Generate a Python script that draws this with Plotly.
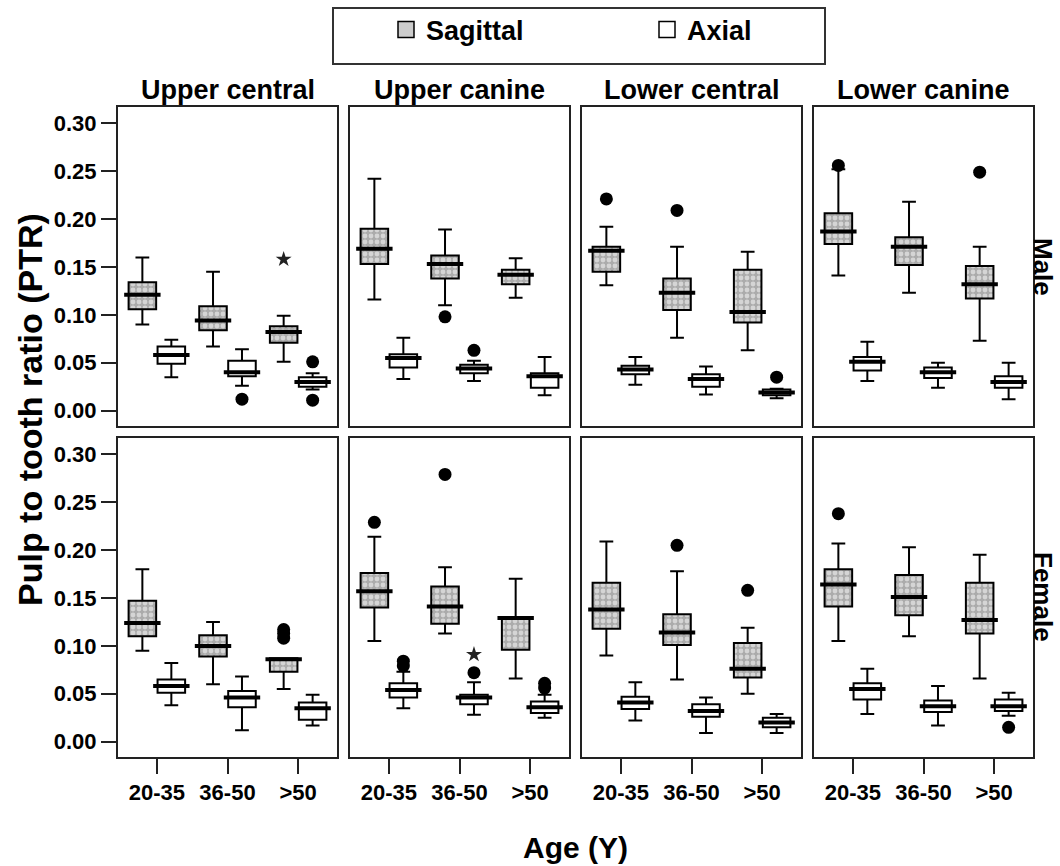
import plotly.graph_objects as go
from plotly.subplots import make_subplots

teeth = ["Upper central", "Upper canine", "Lower central", "Lower canine"]
sexes = ["Male", "Female"]
ages = ["20-35", "36-50", ">50"]
planes = ["Sagittal", "Axial"]

# panel order: Male (UC, UCan, LC, LCan), Female (UC, UCan, LC, LCan); each row = 3 age groups
sag_low = [[0.090, 0.067, 0.051], [0.116, 0.110, 0.118], [0.131, 0.076, 0.063], [0.141, 0.123, 0.073],
           [0.095, 0.060, 0.055], [0.105, 0.113, 0.066], [0.090, 0.065, 0.050], [0.105, 0.110, 0.066]]
sag_q1 = [[0.106, 0.084, 0.071], [0.153, 0.138, 0.132], [0.145, 0.105, 0.092], [0.174, 0.152, 0.117],
          [0.110, 0.089, 0.073], [0.140, 0.123, 0.096], [0.118, 0.101, 0.067], [0.141, 0.132, 0.113]]
sag_med = [[0.121, 0.094, 0.082], [0.169, 0.153, 0.142], [0.167, 0.123, 0.103], [0.187, 0.171, 0.132],
           [0.124, 0.100, 0.086], [0.157, 0.141, 0.129], [0.138, 0.114, 0.076], [0.164, 0.151, 0.127]]
sag_q3 = [[0.134, 0.109, 0.088], [0.190, 0.162, 0.147], [0.171, 0.138, 0.147], [0.206, 0.181, 0.151],
          [0.147, 0.111, 0.087], [0.176, 0.162, 0.130], [0.166, 0.133, 0.103], [0.180, 0.174, 0.166]]
sag_high = [[0.160, 0.145, 0.099], [0.242, 0.189, 0.159], [0.192, 0.171, 0.166], [0.252, 0.218, 0.171],
            [0.180, 0.125, 0.087], [0.214, 0.182, 0.170], [0.209, 0.178, 0.119], [0.207, 0.203, 0.195]]

ax_low = [[0.035, 0.026, 0.022], [0.033, 0.031, 0.016], [0.027, 0.017, 0.013], [0.031, 0.024, 0.012],
          [0.038, 0.012, 0.017], [0.035, 0.028, 0.025], [0.022, 0.009, 0.009], [0.029, 0.017, 0.027]]
ax_q1 = [[0.049, 0.036, 0.025], [0.045, 0.039, 0.024], [0.038, 0.025, 0.016], [0.042, 0.034, 0.024],
         [0.051, 0.036, 0.023], [0.046, 0.039, 0.030], [0.034, 0.026, 0.015], [0.044, 0.031, 0.032]]
ax_med = [[0.058, 0.040, 0.030], [0.055, 0.044, 0.036], [0.043, 0.033, 0.019], [0.051, 0.040, 0.030],
          [0.058, 0.046, 0.035], [0.054, 0.046, 0.036], [0.041, 0.032, 0.020], [0.055, 0.037, 0.037]]
ax_q3 = [[0.067, 0.052, 0.035], [0.059, 0.048, 0.039], [0.047, 0.038, 0.022], [0.056, 0.045, 0.036],
         [0.065, 0.053, 0.041], [0.061, 0.049, 0.042], [0.047, 0.039, 0.025], [0.061, 0.043, 0.044]]
ax_high = [[0.074, 0.064, 0.039], [0.076, 0.052, 0.056], [0.056, 0.046, 0.023], [0.072, 0.050, 0.050],
           [0.082, 0.068, 0.049], [0.073, 0.062, 0.049], [0.062, 0.046, 0.029], [0.076, 0.058, 0.051]]

# outliers (circles) and extremes (stars)
sag_out = [[[], [], []], [[], [0.098], []], [[0.221], [0.209], []], [[0.256], [], [0.249]],
           [[], [], [0.108, 0.113, 0.117]], [[0.229], [0.279], []], [[], [0.205], [0.158]], [[0.238], [], []]]
sag_ext = [[[], [], [0.158]], [[], [], []], [[], [], []], [[], [], []],
           [[], [], []], [[], [], []], [[], [], []], [[], [], []]]
ax_out = [[[], [0.012], [0.051, 0.011]], [[], [0.063], []], [[], [], [0.035]], [[], [], []],
          [[], [], []], [[0.079, 0.084], [0.072], [0.056, 0.061]], [[], [], []], [[], [], [0.015]]]
ax_ext = [[[], [], []], [[], [], []], [[], [], []], [[], [], []],
          [[], [], []], [[], [0.091], []], [[], [], []], [[], [], []]]

FONT = "Arial, Liberation Sans, Helvetica, sans-serif"
OFF = 0.205
BW = 0.39

fig = make_subplots(rows=2, cols=4, horizontal_spacing=13 / 915, vertical_spacing=12 / 650)

series = [
    ("Sagittal", -1, sag_low, sag_q1, sag_med, sag_q3, sag_high, sag_out, sag_ext),
    ("Axial", 1, ax_low, ax_q1, ax_med, ax_q3, ax_high, ax_out, ax_ext),
]

for p in range(8):
    r = p // 4 + 1
    c = p % 4 + 1
    for name, sign, lo, q1, md, q3, hi, outs, exts in series:
        xs = [i + sign * OFF for i in range(len(ages))]
        if name == "Sagittal":
            fig.add_trace(go.Bar(
                x=xs, base=q1[p], y=[b - a for a, b in zip(q1[p], q3[p])], width=BW,
                marker=dict(color="#b0b0b0", line=dict(width=0),
                            pattern=dict(shape=".", fgcolor="white", bgcolor="#ababab",
                                         size=6, solidity=0.5)),
                showlegend=False, hoverinfo="skip"), row=r, col=c)
        fig.add_trace(go.Box(
            x=xs, q1=q1[p], median=md[p], q3=q3[p], lowerfence=lo[p], upperfence=hi[p],
            width=BW, whiskerwidth=0.5, boxpoints=False,
            fillcolor="rgba(0,0,0,0)" if name == "Sagittal" else "white",
            line=dict(color="black", width=2), showlegend=False, name=name), row=r, col=c)
        fig.add_trace(go.Scatter(
            x=xs, y=md[p], mode="markers",
            marker=dict(symbol="line-ew", size=26, line=dict(color="black", width=4)),
            showlegend=False, hoverinfo="skip"), row=r, col=c)
        ox, oy = [], []
        for i in range(len(ages)):
            for v in outs[p][i]:
                ox.append(xs[i]); oy.append(v)
        if ox:
            fig.add_trace(go.Scatter(x=ox, y=oy, mode="markers",
                                     marker=dict(symbol="circle", size=13, color="black"),
                                     showlegend=False), row=r, col=c)
        ex, ey = [], []
        for i in range(len(ages)):
            for v in exts[p][i]:
                ex.append(xs[i]); ey.append(v)
        if ex:
            fig.add_trace(go.Scatter(x=ex, y=ey, mode="markers",
                                     marker=dict(symbol="star", size=12, color="#222"),
                                     showlegend=False), row=r, col=c)

# legend entries
fig.add_trace(go.Scatter(x=[None], y=[None], mode="markers", name="Sagittal",
                         marker=dict(symbol="square", size=16, color="#cccccc",
                                     line=dict(color="black", width=1.5))), row=1, col=1)
fig.add_trace(go.Scatter(x=[None], y=[None], mode="markers", name="Axial",
                         marker=dict(symbol="square", size=16, color="white",
                                     line=dict(color="black", width=1.5))), row=1, col=1)

for p in range(8):
    r = p // 4 + 1
    c = p % 4 + 1
    fig.update_xaxes(range=[-0.55, 2.55], tickvals=[0, 1, 2], ticktext=ages,
                     showline=True, mirror=True, linecolor="#222", linewidth=2,
                     showgrid=False, zeroline=False,
                     ticks="outside" if r == 2 else "", ticklen=15, tickwidth=2, tickcolor="#222",
                     showticklabels=(r == 2),
                     tickfont=dict(family=FONT, size=22, color="black", weight="bold"),
                     row=r, col=c)
    fig.update_yaxes(range=[-0.016, 0.317], tick0=0, dtick=0.05, tickformat=".2f",
                     showline=True, mirror=True, linecolor="#222", linewidth=2,
                     showgrid=False, zeroline=False,
                     ticks="outside" if c == 1 else "", ticklen=15, tickwidth=2, tickcolor="#222",
                     showticklabels=(c == 1),
                     tickfont=dict(family=FONT, size=22, color="black", weight="bold"),
                     row=r, col=c)

annotations = []
col_centers = [(118 + 219 / 2 + k * (219 + 13) - 118) / 915 for k in range(4)]
for k, t in enumerate(teeth):
    annotations.append(dict(text=t, x=col_centers[k], y=1.0, xref="paper", yref="paper",
                            xanchor="center", yanchor="bottom", showarrow=False,
                            font=dict(family=FONT, size=27, color="black", weight="bold")))
row_centers = [(757 - 267) / 650, (757 - 597) / 650]
for k, s in enumerate(sexes):
    annotations.append(dict(text=s, x=(1043 - 118) / 915, y=row_centers[k], xref="paper", yref="paper",
                            xanchor="center", yanchor="middle", textangle=90, showarrow=False,
                            font=dict(family=FONT, size=26, color="black", weight="bold")))
annotations.append(dict(text="Pulp to tooth ratio (PTR)", x=(30 - 118) / 915, y=(757 - 410) / 650,
                        xref="paper", yref="paper", xanchor="center", yanchor="middle",
                        textangle=-90, showarrow=False,
                        font=dict(family=FONT, size=34, color="black", weight="bold")))
annotations.append(dict(text="Age (Y)", x=0.5, y=(757 - 847) / 650, xref="paper", yref="paper",
                        xanchor="center", yanchor="middle", showarrow=False,
                        font=dict(family=FONT, size=30, color="black", weight="bold")))

fig.update_layout(
    width=1060, height=866,
    margin=dict(l=118, r=27, t=107, b=109, autoexpand=False),
    paper_bgcolor="white", plot_bgcolor="white",
    barmode="overlay", boxmode="overlay",
    annotations=annotations,
    shapes=[dict(type="rect", xref="paper", yref="paper",
                 x0=(333 - 118) / 915, x1=(825 - 118) / 915,
                 y0=(757 - 64) / 650, y1=(757 - 8) / 650,
                 line=dict(color="#333", width=2), fillcolor="rgba(0,0,0,0)")],
    legend=dict(orientation="h", x=(386 - 118) / 915, y=(757 - 30) / 650,
                xanchor="left", yanchor="middle", entrywidth=216, entrywidthmode="pixels",
                bgcolor="rgba(0,0,0,0)", borderwidth=0,
                font=dict(family=FONT, size=27, color="black", weight="bold")),
)

fig.write_html("out.html")
